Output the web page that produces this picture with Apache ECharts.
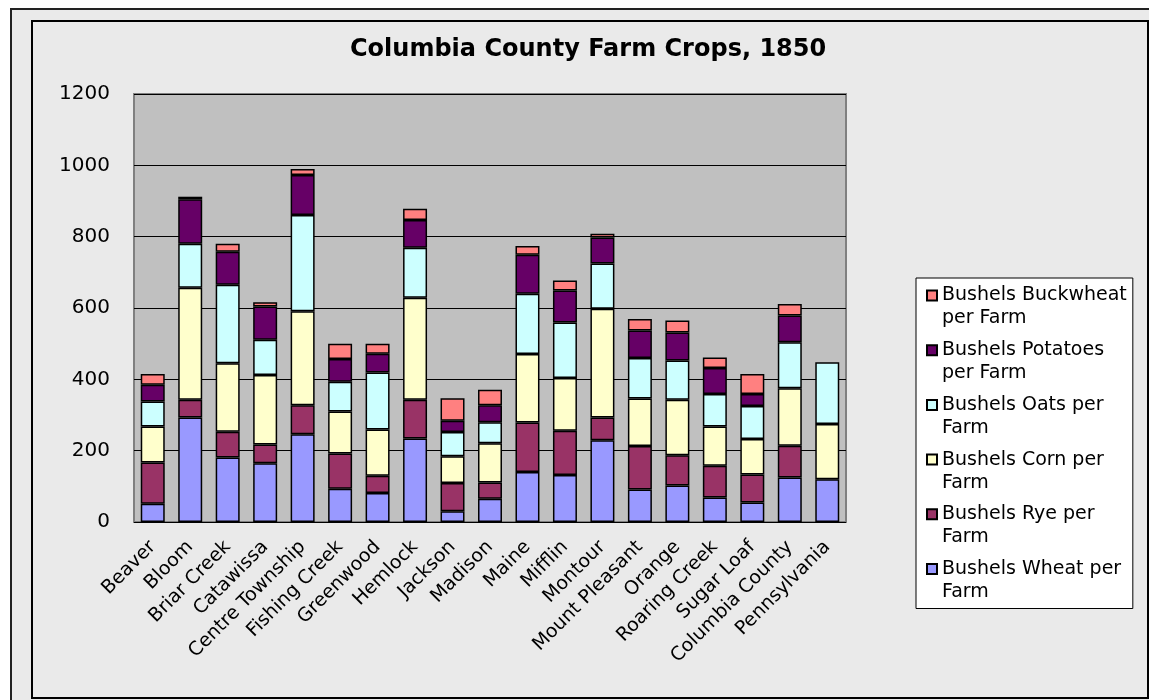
<!DOCTYPE html>
<html>
<head>
<meta charset="utf-8">
<title>Columbia County Farm Crops, 1850</title>
<script src="https://cdn.jsdelivr.net/npm/echarts@6/dist/echarts.min.js"></script>
<style>
  html, body { margin: 0; padding: 0; background: #fff; }
  #chart { width: 1149px; height: 700px; }
</style>
</head>
<body>
<div id="chart"></div>
<script>
const townships = ['Beaver', 'Bloom', 'Briar Creek', 'Catawissa', 'Centre Township', 'Fishing Creek',
  'Greenwood', 'Hemlock', 'Jackson', 'Madison', 'Maine', 'Mifflin', 'Montour', 'Mount Pleasant',
  'Orange', 'Roaring Creek', 'Sugar Loaf', 'Columbia County', 'Pennsylvania']

const wheat = [51, 293, 181, 165, 246, 93, 81, 234, 30, 65, 140, 132, 229, 91, 102, 69, 55, 125, 120]
const rye = [116, 50, 72, 52, 81, 99, 49, 109, 79, 46, 139, 124, 64, 122, 85, 89, 78, 89, null]
const corn = [101, 314, 192, 195, 264, 118, 129, 286, 75, 110, 192, 148, 305, 133, 156, 110, 100, 161, 155]
const oats = [70, 123, 220, 99, 270, 83, 160, 140, 68, 59, 169, 155, 127, 114, 110, 91, 92, 129, 173]
const potatoes = [47, 125, 93, 93, 112, 64, 53, 78, 32, 47, 109, 90, 73, 77, 78, 73, 34, 75, null]
const buckwheat = [30, 7, 22, 12, 17, 43, 28, 31, 63, 44, 25, 28, 10, 32, 34, 29, 56, 32, null]

const yTicks = [0, 200, 400, 600, 800, 1000, 1200]

// legend wraps like the old excel box
const legendText = {
  'Bushels Buckwheat per Farm': 'Bushels Buckwheat\nper Farm',
  'Bushels Potatoes per Farm': 'Bushels Potatoes\nper Farm',
  'Bushels Oats per Farm': 'Bushels Oats per\nFarm',
  'Bushels Corn per Farm': 'Bushels Corn per\nFarm',
  'Bushels Rye per Farm': 'Bushels Rye per\nFarm',
  'Bushels Wheat per Farm': 'Bushels Wheat per\nFarm'
}

const font = 'DejaVu Sans'

function bar(name, data, color) {
  return {
    name: name,
    type: 'bar',
    stack: 'crops',
    barCategoryGap: '36%',
    data: data,
    itemStyle: { color: color, borderColor: '#000', borderWidth: 1.5 }
  }
}

var chart = echarts.init(document.getElementById('chart'))
chart.setOption({
  backgroundColor: '#fff',
  animation: false,
  graphic: [
    { type: 'rect', z: -20, shape: { x: 11, y: 9, width: 1200, height: 760 },
      style: { fill: '#eaeaea', stroke: '#222', lineWidth: 2 } },
    { type: 'rect', z: -19, shape: { x: 32, y: 21, width: 1116, height: 677 },
      style: { fill: '#eaeaea', stroke: '#000', lineWidth: 2 } }
  ],
  title: {
    text: 'Columbia County Farm Crops, 1850',
    left: 350,
    top: 38,
    padding: 0,
    textStyle: { fontFamily: font, fontSize: 24, fontWeight: 'bold', color: '#000' }
  },
  legend: {
    orient: 'vertical',
    left: 916,
    top: 278,
    padding: [5, 6, 4, 10],
    itemGap: 6.7,
    itemWidth: 10,
    itemHeight: 46,
    icon: 'path://M0,0M0,46M0,6.5h10v10h-10z',
    backgroundColor: '#fff',
    borderColor: '#000',
    borderWidth: 1,
    data: ['Bushels Buckwheat per Farm', 'Bushels Potatoes per Farm', 'Bushels Oats per Farm',
      'Bushels Corn per Farm', 'Bushels Rye per Farm', 'Bushels Wheat per Farm'],
    formatter: name => legendText[name],
    textStyle: { fontFamily: font, fontSize: 19, lineHeight: 23, color: '#000' }
  },
  grid: {
    left: 134,
    right: 303,
    top: 94,
    bottom: 178,
    show: true,
    backgroundColor: '#c0c0c0',
    borderColor: '#808080',
    borderWidth: 2
  },
  xAxis: {
    type: 'category',
    data: townships,
    axisLine: { show: false },
    axisTick: { show: false },
    axisLabel: {
      interval: 0,
      rotate: 45,
      margin: 22,
      fontFamily: font,
      fontSize: 19,
      color: '#000'
    }
  },
  yAxis: {
    type: 'value',
    min: yTicks[0],
    max: yTicks[yTicks.length - 1],
    interval: 200,
    axisLine: { show: false },
    axisTick: { show: false },
    axisLabel: { margin: 24, fontFamily: font, fontSize: 20, color: '#000', formatter: v => String(v) },
    splitLine: { lineStyle: { color: '#000', width: 1 } }
  },
  series: [
    bar('Bushels Wheat per Farm', wheat, '#9999ff'),
    bar('Bushels Rye per Farm', rye, '#993366'),
    bar('Bushels Corn per Farm', corn, '#ffffcc'),
    bar('Bushels Oats per Farm', oats, '#ccffff'),
    bar('Bushels Potatoes per Farm', potatoes, '#660066'),
    bar('Bushels Buckwheat per Farm', buckwheat, '#ff8080')
  ]
})
</script>
</body>
</html>
